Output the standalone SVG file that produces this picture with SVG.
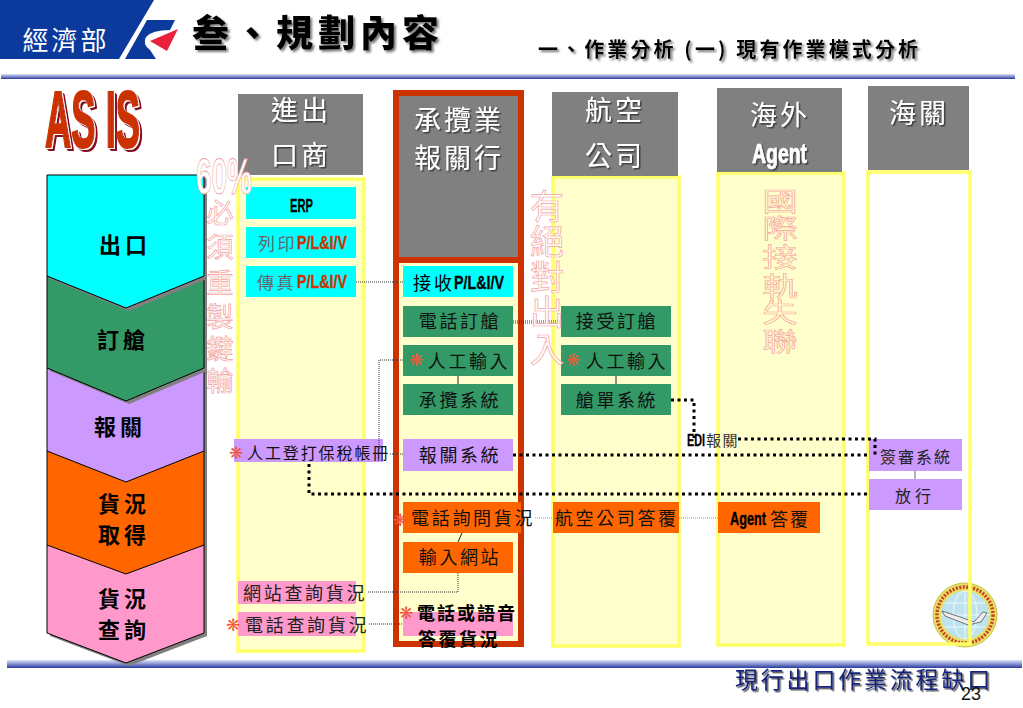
<svg xmlns="http://www.w3.org/2000/svg" width="1023" height="708" viewBox="0 0 1023 708">
<style>
text{font-family:"Noto Sans CJK TC","Noto Sans CJK SC",sans-serif;fill:#000}
.m{text-anchor:middle}
.hd{font-size:27px;fill:#fff;letter-spacing:3px;text-anchor:middle;filter:url(#sh)}
.bx{font-size:18px;letter-spacing:2.6px;text-anchor:middle;fill:#111}
.lat{font-family:"Liberation Sans",sans-serif;font-weight:700;stroke-width:.3px}
.st{font-size:22px;font-weight:700;letter-spacing:4px;text-anchor:middle}
.out{fill:#fff;fill-opacity:.75;stroke:#f4a0a0;stroke-width:.7px;font-size:27px;text-anchor:middle}
.o2{fill:none;font-size:26px;stroke-width:.6px}
.ast{font-family:"DejaVu Sans",sans-serif;font-size:17px;fill:#ef5a3c;text-anchor:middle}
.gh{fill:#808080}
.yp{fill:#ffffcc;stroke:#ffff66;stroke-width:3.5}
.fr{fill:none;stroke:#cc3300;stroke-width:6}
.cy{fill:#00ffff}.gn{fill:#339966}.pu{fill:#cc99ff}.or{fill:#ff6600}.pk{fill:#ff99cc}
.thin{fill:none;stroke:#333;stroke-width:1;stroke-dasharray:1 1}
.sol{fill:none;stroke:#222;stroke-width:1}
.thick{fill:none;stroke:#000;stroke-width:3;stroke-dasharray:3 3.5}
.chev{stroke:#000;stroke-width:1}
.red{fill:#cc3300;stroke:#cc3300}
</style>
<defs>
<linearGradient id="rule" x1="0" y1="0" x2="0" y2="1"><stop offset="0" stop-color="#dfe3f6"/><stop offset=".55" stop-color="#7d88cc"/><stop offset="1" stop-color="#27399c"/></linearGradient>
<filter id="sh" x="-20%" y="-20%" width="140%" height="140%"><feDropShadow dx="1.5" dy="1.5" stdDeviation=".6" flood-color="#333" flood-opacity=".8"/></filter>
<filter id="sh2" x="-10%" y="-10%" width="120%" height="130%"><feDropShadow dx="2" dy="2" stdDeviation="1" flood-color="#777"/></filter>
<filter id="ext" x="-10%" y="-10%" width="120%" height="120%">
<feOffset in="SourceAlpha" dx="1" dy="1" result="a"/><feFlood flood-color="#fff"/><feComposite in2="a" operator="in" result="w"/>
<feOffset in="SourceAlpha" dx="2" dy="2" result="b"/><feFlood flood-color="#8b1020"/><feComposite in2="b" operator="in" result="d1"/>
<feOffset in="SourceAlpha" dx="3" dy="3" result="c"/><feFlood flood-color="#8b1020"/><feComposite in2="c" operator="in" result="d2"/>
<feMerge><feMergeNode in="d2"/><feMergeNode in="d1"/><feMergeNode in="w"/><feMergeNode in="SourceGraphic"/></feMerge></filter>
</defs>

<g id="logo">
<polygon points="0,0 154,0 119,59 0,59" fill="#0b3a9c"/>
<path d="M147 20H175L170 30Q152 30 146 37Q142 44 150 50L156 59H125Z" fill="#0b3a9c"/>
<polygon points="178,29 150,41 167,51" fill="#e8213c"/>
<text x="66" y="50" class="m" style="font-size:26px;fill:#fff;letter-spacing:3px">經濟部</text>
</g>
<g id="title">
<text x="192" y="47" style="font-size:37px;font-weight:900;letter-spacing:5px;filter:url(#sh2)">叁、規劃內容</text>
<text x="538" y="57" style="font-size:20px;font-weight:700;letter-spacing:3.1px;filter:url(#sh2)">一、作業分析 (一) 現有作業模式分析</text>
<rect x="1" y="74" width="1014" height="5" fill="url(#rule)"/>
<rect x="7" y="660" width="1015" height="8" fill="url(#rule)"/>
</g>
<g id="as-is">
<text x="45" y="147" textLength="95" lengthAdjust="spacingAndGlyphs" style="font-family:'Liberation Sans',sans-serif;font-weight:700;font-size:80px;fill:#cc3300;stroke:#cc3300;stroke-width:2.2;filter:url(#ext)">AS IS</text>
</g>

<g id="stages">
<rect x="204" y="178" width="3" height="458" fill="#808080"/>
<g id="stage-5"><polygon points="47,545 204,545 204,633 126,663 47,633" fill="#808080" transform="translate(3,3)"/><polygon class="chev pk" points="47,545 204,545 204,633 126,663 47,633"/><text class="st" x="124" y="607">貨況</text><text class="st" x="124" y="638">查詢</text></g>
<g id="stage-4"><polygon class="chev or" points="47,451 204,451 204,545 126,574 47,545"/><text class="st" x="124" y="512">貨況</text><text class="st" x="124" y="543">取得</text></g>
<g id="stage-3"><polygon class="chev pu" points="47,368 204,368 204,451 126,482 47,451"/><text class="st" x="120" y="435">報關</text></g>
<g id="stage-2"><polygon points="47,276 204,276 204,368 126,401 47,368" fill="#808080" transform="translate(3,3)"/><polygon class="chev gn" points="47,276 204,276 204,368 126,401 47,368"/><text class="st" x="123" y="348">訂艙</text></g>
<g id="stage-1"><polygon points="47,175 204,175 204,276 126,308 47,276" fill="#808080" transform="translate(3,3)"/><polygon class="chev cy" points="47,175 204,175 204,276 126,308 47,276"/><text class="st" x="125" y="253">出口</text></g>
</g>

<g id="col-importer">
<rect class="yp" x="238" y="179" width="126" height="472"/>
<rect class="gh" x="238" y="94" width="125" height="81"/>
<text class="hd" x="301" y="120">進出</text><text class="hd" x="301" y="165">口商</text>
</g>
<g id="col-forwarder">
<rect x="396" y="93" width="125" height="551" fill="#ffffcc"/>
<rect x="399" y="96" width="119" height="161" fill="#808080"/>
<rect class="fr" x="396" y="93" width="125" height="551"/>
<rect x="393" y="257" width="131" height="6" fill="#cc3300"/>
<text class="hd" x="459" y="130">承攬業</text><text class="hd" x="459" y="168">報關行</text>
</g>
<g id="col-airline">
<rect class="yp" x="553" y="177" width="126" height="469"/>
<rect class="gh" x="552" y="92" width="126" height="84"/>
<text class="hd" x="615" y="120">航空</text><text class="hd" x="615" y="166">公司</text>
</g>
<g id="col-agent">
<rect class="yp" x="718" y="173" width="126" height="472"/>
<rect class="gh" x="717" y="88" width="125" height="84"/>
<text class="hd" x="780" y="125">海外</text>
<text x="752" y="163" class="lat" textLength="55" lengthAdjust="spacingAndGlyphs" style="font-size:28px;fill:#fff;stroke:#fff;stroke-width:.7;filter:url(#sh)">Agent</text>
</g>
<g id="col-customs">
<rect x="868" y="172" width="102" height="472" fill="#fff"/>
<rect class="gh" x="868" y="86" width="101" height="84"/>
<text class="hd" x="919" y="123">海關</text>
</g>
<g id="seal">
<circle cx="965" cy="615" r="32" fill="#e6df6a" stroke="#c9c23a" stroke-width="1"/>
<circle cx="965" cy="615" r="28" fill="none" stroke="#c8401c" stroke-width="3.5" stroke-dasharray="2 1.5"/>
<circle cx="965" cy="615" r="24" fill="#bfe3ee"/>
<g fill="none" stroke="#eef8fb" stroke-width="1"><ellipse cx="965" cy="615" rx="12" ry="24"/><path d="M965 591V639M941 615H989M945 603H985M945 627H985"/></g>
<path d="M942 611L960 617L974 622L983 612L987 613L981 622L968 625L945 616Z" fill="#eee" stroke="#555" stroke-width=".8"/>
</g>
<path id="col-customs-frame" d="M868 172H970V644H868Z" fill="none" stroke="#ffff66" stroke-width="3.5"/>

<g id="n-erp"><rect class="cy" x="246" y="187" width="110" height="32"/><text class="lat" x="290" y="212" textLength="23" lengthAdjust="spacingAndGlyphs" style="font-size:18px;stroke:#000">ERP</text></g>
<g id="n-print"><rect class="cy" x="246" y="227" width="110" height="31"/><text x="258" y="250" style="font-size:17px;letter-spacing:2.5px;fill:#666">列印</text><text class="lat red" x="297" y="249" textLength="50" lengthAdjust="spacingAndGlyphs" style="font-size:18px">P/L&amp;I/V</text></g>
<g id="n-fax"><rect class="cy" x="246" y="266" width="110" height="31"/><text x="257" y="289" style="font-size:17px;letter-spacing:2.5px;fill:#666">傳真</text><text class="lat red" x="297" y="288" textLength="50" lengthAdjust="spacingAndGlyphs" style="font-size:18px">P/L&amp;I/V</text></g>
<g id="n-receive"><rect class="cy" x="403" y="266" width="110" height="31"/><text x="413" y="290" style="font-size:18px;letter-spacing:3px">接收</text><text class="lat" x="454" y="289" textLength="50" lengthAdjust="spacingAndGlyphs" style="font-size:18px;stroke:#000">P/L&amp;I/V</text></g>
<g id="n-phone-book"><rect class="gn" x="403" y="306" width="110" height="31"/><text class="bx" x="460" y="328">電話訂艙</text></g>
<g id="n-manual-1"><rect class="gn" x="403" y="345" width="110" height="31"/><text class="ast" x="416" y="366">❋</text><text class="bx" x="469" y="368">人工輸入</text></g>
<g id="n-forward-sys"><rect class="gn" x="403" y="384" width="110" height="31"/><text class="bx" x="460" y="407">承攬系統</text></g>
<g id="n-accept"><rect class="gn" x="561" y="306" width="110" height="31"/><text class="bx" x="617" y="328">接受訂艙</text></g>
<g id="n-manual-2"><rect class="gn" x="561" y="345" width="110" height="31"/><text class="ast" x="573" y="366">❋</text><text class="bx" x="627" y="368">人工輸入</text></g>
<g id="n-manifest"><rect class="gn" x="561" y="384" width="110" height="31"/><text class="bx" x="617" y="407">艙單系統</text></g>
<g id="n-manual-ledger"><rect class="pu" x="234" y="439" width="149" height="23"/><text class="ast" x="236" y="459">❋</text><text x="247" y="459" style="font-size:16px;letter-spacing:1.9px;fill:#111">人工登打保稅帳冊</text></g>
<g id="n-customs-sys"><rect class="pu" x="403" y="439" width="110" height="32"/><text class="bx" x="460" y="462">報關系統</text></g>
<g id="n-phone-status"><rect class="or" x="403" y="502" width="118" height="31"/><text class="ast" x="400" y="526">❋</text><text x="411" y="525" style="font-size:18px;letter-spacing:2.7px;fill:#111">電話詢問貨況</text></g>
<g id="n-web-input"><rect class="or" x="403" y="542" width="110" height="31"/><text class="bx" x="460" y="564">輸入網站</text></g>
<g id="n-phone-voice"><rect class="pk" x="403" y="612" width="110" height="24"/><text class="ast" x="406" y="619">❋</text><text x="417" y="620" style="font-size:18px;font-weight:700;letter-spacing:2px">電話或語音</text><text x="418" y="646" style="font-size:18px;font-weight:700;letter-spacing:2.5px">答覆貨況</text></g>
<g id="n-web-query"><rect class="pk" x="238" y="581" width="118" height="23"/><text x="243" y="600" style="font-size:18px;letter-spacing:2.7px;fill:#222">網站查詢貨況</text></g>
<g id="n-phone-query"><rect class="pk" x="238" y="612" width="118" height="24"/><text class="ast" x="233" y="631">❋</text><text x="245" y="632" style="font-size:18px;letter-spacing:2.7px;fill:#222">電話查詢貨況</text></g>
<g id="n-airline-reply"><rect class="or" x="553" y="502" width="126" height="31"/><text x="555" y="525" style="font-size:18px;letter-spacing:2.6px;fill:#111">航空公司答覆</text></g>
<g id="n-agent-reply"><rect class="or" x="718" y="502" width="102" height="31"/><text class="lat" x="730" y="525" textLength="36" lengthAdjust="spacingAndGlyphs" style="font-size:18px;stroke:#000;stroke-width:.4">Agent</text><text x="770" y="526" style="font-size:18px;letter-spacing:2px;fill:#111">答覆</text></g>
<g id="n-review"><rect class="pu" x="869" y="439" width="93" height="32"/><text class="m" x="916" y="463" style="font-size:16px;letter-spacing:2px;fill:#222">簽審系統</text></g>
<g id="n-release"><rect class="pu" x="869" y="479" width="93" height="31"/><text class="m" x="915" y="502" style="font-size:16px;letter-spacing:4px;fill:#222">放行</text></g>

<g id="connectors">
<path class="thin" d="M356 282H403"/>
<path class="thin" d="M513 321H561M513 323H561"/>
<path class="thin" d="M403 360H379V450"/>
<path class="sol" d="M458 376V384M616 376V384"/>
<path class="thin" d="M390 454H403"/>
<path class="thick" d="M671 400H694V438"/>
<path class="thick" d="M738 439H875V455"/>
<path class="thick" d="M513 455H869"/>
<path class="thick" d="M309 464V494H869"/>
<path class="thin" style="stroke:#999" d="M535 518H553M679 518H718"/>
<path class="sol" d="M462 533L458 542"/>
<path class="thin" d="M458 573V592H368"/>
<path class="thin" d="M369 624H403"/>
<path class="sol" style="stroke:#666" d="M915 471V479"/>
</g>
<g id="edi-label"><text class="lat" x="687" y="446" textLength="18" lengthAdjust="spacingAndGlyphs" style="font-size:16px;stroke:#000">EDI</text><text x="706" y="446" style="font-size:15px;letter-spacing:1.5px;fill:#333">報關</text></g>

<g id="notes">
<text x="196" y="194" textLength="56" lengthAdjust="spacingAndGlyphs" style="font-family:'Liberation Sans',sans-serif;font-weight:700;font-size:50px;fill:#fff;stroke:#f4a0a0;stroke-width:.8">60%</text>
<text class="out" x="220" y="223">必</text><text class="out" x="220" y="257">須</text><text class="out" x="220" y="293">重</text><text class="out" x="220" y="327">製</text><text class="out" x="220" y="359">鍵</text><text class="out" x="220" y="391">輸</text>
<text class="out" style="font-size:34px" x="547" y="219">有</text><text class="out" style="font-size:34px" x="547" y="254">絕</text><text class="out" style="font-size:34px" x="547" y="290">對</text><text class="out" style="font-size:34px" x="547" y="325">出</text><text class="out" style="font-size:34px" x="547" y="362">入</text>
<text class="out o2" transform="translate(780,211) scale(1.35,1)">國</text><text class="out o2" transform="translate(780,238) scale(1.35,1)">際</text><text class="out o2" transform="translate(780,267) scale(1.35,1)">接</text><text class="out o2" transform="translate(780,296) scale(1.35,1)">軌</text><text class="out o2" transform="translate(780,322) scale(1.35,1)">失</text><text class="out o2" transform="translate(780,351) scale(1.35,1)">聯</text>
</g>

<g id="footer">
<text x="735" y="688" style="font-size:23px;letter-spacing:2.8px;fill:#14247e;filter:url(#sh)">現行出口作業流程缺口</text>
<text x="961" y="700" style="font-family:'Liberation Sans',sans-serif;font-size:18px;fill:#111">23</text>
</g>
</svg>
